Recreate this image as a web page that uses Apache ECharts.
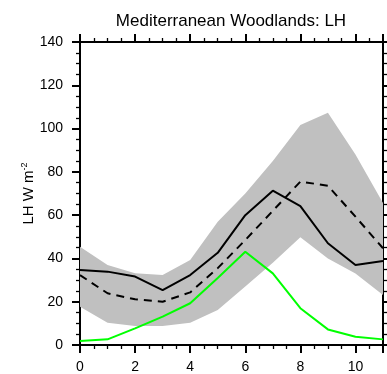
<!DOCTYPE html>
<html><head><meta charset="utf-8">
<script src="https://cdn.jsdelivr.net/npm/echarts@6/dist/echarts.min.js"></script>
<style>html,body{margin:0;padding:0;background:#fff}#c{width:387px;height:374px}</style>
</head><body><div id="c"></div>
<script>
var months = [0,1,2,3,4,5,6,7,8,9,10,11];
var solidLH = [34.7,33.9,31.6,25.4,32.3,42.6,60,71.3,64.2,47,37,38.8];
var dashedLH = [32.3,23.9,21.1,20,24.3,35.5,48.5,62,75.5,73.6,59.3,44.7];
var greenLH = [1.8,2.6,7.7,13.1,19.3,31,43.1,33.1,17,7.2,3.8,2.6];
var bandUpper = [45.4,37,33.1,32.3,39.3,57,70,85,101.7,107.3,88,65.6];
var bandLower = [17.7,10.3,8.8,8.8,10.3,16.2,27,38,49.8,40,33,23.1];
var xTicks = [0,2,4,6,8,10];
var yTicks = [0,20,40,60,80,100,120,140];

function pairs(v){ return months.map(function(m,i){ return [m, v[i]]; }); }
var bandData = months.map(function(m,i){ return [m, bandLower[i], bandUpper[i]]; });

var font = 'Liberation Sans, Arial, Helvetica, sans-serif';
var axLine = {show:true, onZero:false, lineStyle:{color:'#000', width:2}};
function mkX(pos, labels){
  return {type:'value', position:pos, min:0, max:11, interval:2,
    axisLine:axLine,
    axisTick:{show:true, inside:false, length:8, lineStyle:{color:'#000', width:2}},
    minorTick:{show:true, splitNumber:4, length:4, lineStyle:{color:'#000', width:1.3}},
    splitLine:{show:false},
    axisLabel:{show:labels, color:'#000', fontSize:14, fontFamily:font, margin:15,
      formatter:function(v){ return xTicks.indexOf(v) >= 0 ? String(v) : ''; }}
  };
}
function mkY(pos, labels){
  var o = {type:'value', position:pos, min:0, max:140, interval:20,
    axisLine:axLine,
    axisTick:{show:true, inside:false, length:8, lineStyle:{color:'#000', width:2}},
    minorTick:{show:true, splitNumber:4, length:4, lineStyle:{color:'#000', width:1.3}},
    splitLine:{show:false},
    axisLabel:{show:labels, color:'#000', fontSize:14, fontFamily:font, margin:17,
      formatter:function(v){ return yTicks.indexOf(v) >= 0 ? String(v) : ''; }}
  };
  if (labels) {
    o.name = '{a|LH W m}{b|-2}';
    o.nameLocation = 'middle';
    o.nameGap = 42;
    o.nameRotate = 90;
    o.nameMoveOverlap = false;
    o.nameTextStyle = {rich:{
      a:{fontSize:15, fontFamily:font, color:'#000'},
      b:{fontSize:9, fontFamily:font, color:'#000', verticalAlign:'top', padding:[0,0,9,0]}
    }};
  }
  return o;
}

var chart = echarts.init(document.getElementById('c'), null, {renderer:'canvas'});
chart.setOption({
  animation:false,
  title:{text:'Mediterranean Woodlands: LH', left:226, textAlign:'center', top:8,
    textStyle:{fontSize:17, fontWeight:'normal', color:'#000', fontFamily:font}},
  grid:{left:80, right:4, top:42, bottom:29, containLabel:false},
  xAxis:[mkX('bottom', true), mkX('top', false)],
  yAxis:[mkY('left', true), mkY('right', false)],
  series:[
    {type:'custom', data:bandData, silent:true, z:1,
      renderItem:function(params, api){
        if (params.dataIndex !== 0) return null;
        var up = [], lo = [];
        for (var i = 0; i < bandData.length; i++) {
          up.push(api.coord([bandData[i][0], bandData[i][2]]));
          lo.unshift(api.coord([bandData[i][0], bandData[i][1]]));
        }
        return {type:'polygon', shape:{points:up.concat(lo)}, style:{fill:'#c0c0c0', stroke:null}};
      }},
    {type:'line', data:pairs(dashedLH), symbol:'none', z:3, lineStyle:{color:'#000', width:2, type:[8,6]}},
    {type:'line', data:pairs(solidLH), symbol:'none', z:3, lineStyle:{color:'#000', width:2}},
    {type:'line', data:pairs(greenLH), symbol:'none', z:3, lineStyle:{color:'#00ff00', width:2}}
  ]
});
</script></body></html>
